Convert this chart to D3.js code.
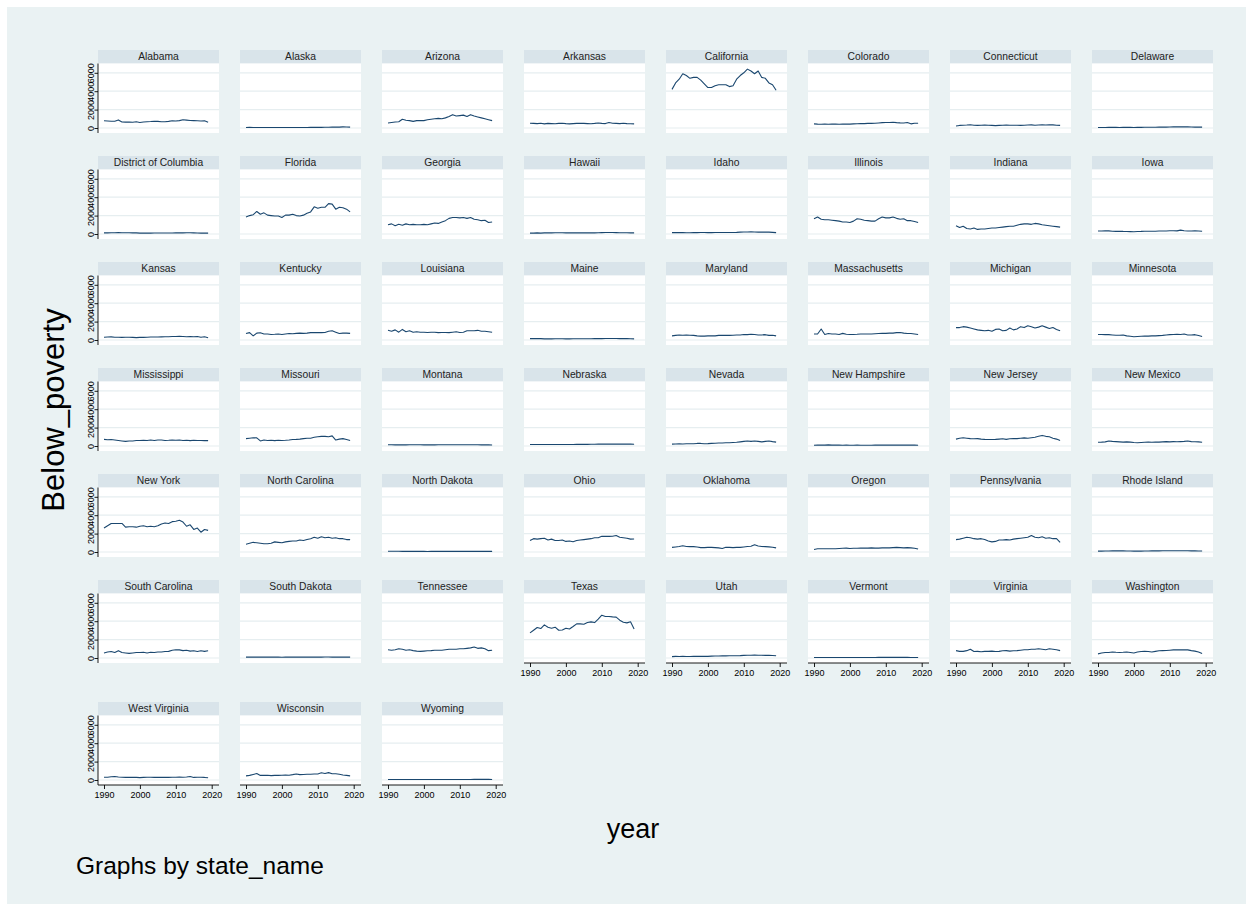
<!DOCTYPE html>
<html>
<head>
<meta charset="utf-8">
<script src="https://cdn.jsdelivr.net/npm/d3@7"></script>
<style>
  html, body { margin: 0; padding: 0; background: #ffffff; }
  svg { display: block; font-family: "Liberation Sans", Arial, Helvetica, sans-serif; }
</style>
</head>
<body>
<svg id="chart" width="1253" height="911"></svg>
<script>
// ---------------- DATA (persons below poverty, thousands) ----------------
const years = [1990,1991,1992,1993,1994,1995,1996,1997,1998,1999,2000,2001,2002,2003,2004,2005,2006,2007,2008,2009,2010,2011,2012,2013,2014,2015,2016,2017,2018,2019];
const xTickValues = [1990, 2000, 2010, 2020];
const xTickLabels = ["1990", "2000", "2010", "2020"];
const yTickValues = [0, 2000, 4000, 6000];
const yTickLabels = ["0", "2000", "4000", "6000"];

const stateNames = ["Alabama","Alaska","Arizona","Arkansas","California","Colorado","Connecticut","Delaware",
  "District of Columbia","Florida","Georgia","Hawaii","Idaho","Illinois","Indiana","Iowa",
  "Kansas","Kentucky","Louisiana","Maine","Maryland","Massachusetts","Michigan","Minnesota",
  "Mississippi","Missouri","Montana","Nebraska","Nevada","New Hampshire","New Jersey","New Mexico",
  "New York","North Carolina","North Dakota","Ohio","Oklahoma","Oregon","Pennsylvania","Rhode Island",
  "South Carolina","South Dakota","Tennessee","Texas","Utah","Vermont","Virginia","Washington",
  "West Virginia","Wisconsin","Wyoming"];

const alabama = [780,760,740,740,880,660,640,660,620,680,600,660,680,700,740,720,680,680,720,780,760,800,900,860,820,800,780,760,780,620];
const alaska = [60,70,60,60,60,50,50,60,50,50,50,50,50,60,60,60,60,60,70,70,80,70,80,80,90,90,100,120,110,90];
const arizona = [550,600,650,680,950,850,800,720,800,820,800,900,950,1000,1050,1000,1100,1250,1450,1300,1350,1400,1250,1450,1300,1200,1100,1000,900,800];
const arkansas = [520,500,480,520,450,500,480,460,500,520,480,450,480,500,520,500,480,460,500,550,500,480,600,520,500,480,520,480,460,450];
const california = [4200,4900,5300,5900,5700,5400,5500,5500,5200,4800,4400,4400,4600,4700,4700,4700,4500,4600,5300,5700,6000,6400,6200,5900,6200,5500,5400,4900,4700,4100];
const colorado = [450,420,400,420,400,420,420,400,420,440,420,450,460,480,480,500,500,520,550,580,600,600,620,580,560,550,600,450,520,520];
const connecticut = [220,280,300,320,360,300,280,300,320,300,280,260,280,300,320,300,300,300,280,300,320,340,300,320,340,320,360,340,300,280];
const delaware = [50,60,60,70,70,70,60,70,70,70,60,70,70,80,80,80,80,90,90,100,110,120,120,120,130,120,110,100,100,90];
const districtOfColumbia = [120,120,130,140,150,140,130,130,120,120,100,100,100,100,110,110,110,110,110,110,120,120,120,130,130,120,110,100,100,100];
const florida = [1850,2000,2100,2450,2150,2300,2050,2000,1950,1950,1800,2050,2050,2150,2000,1950,2050,2250,2400,2950,2800,2900,2900,3300,3250,2700,2900,2850,2700,2400];
const georgia = [1000,1100,900,1050,950,1100,1000,1050,1000,1000,1050,1000,1100,1200,1150,1300,1450,1700,1800,1800,1750,1800,1700,1800,1600,1550,1450,1500,1250,1300];
const hawaii = [100,100,120,100,120,120,120,130,140,140,120,140,120,120,120,120,120,120,120,140,150,160,160,160,150,140,130,130,120,120];
const idaho = [150,150,150,150,140,140,150,150,160,160,150,150,160,160,160,170,160,170,180,200,220,220,230,220,200,200,200,200,180,150];
const illinois = [1650,1850,1600,1550,1550,1500,1450,1400,1300,1300,1250,1400,1650,1600,1500,1450,1400,1400,1650,1850,1750,1750,1850,1700,1600,1650,1450,1450,1350,1250];
const indiana = [900,700,850,600,550,650,500,550,550,600,650,650,700,750,800,850,850,950,1050,1100,1100,1050,1150,1100,1000,950,900,850,800,750];
const iowa = [320,330,350,340,300,280,300,280,270,260,250,270,280,300,300,300,300,320,320,330,350,350,340,420,350,330,330,340,330,300];
const kansas = [300,320,340,300,300,280,300,300,280,260,280,280,300,320,320,330,340,350,360,380,380,400,380,360,380,350,380,300,360,250];
const kentucky = [700,800,450,750,780,650,650,600,620,650,600,650,700,680,720,750,720,750,800,800,820,800,820,950,1000,850,700,750,750,720];
const louisiana = [1050,950,1100,850,1150,900,1000,850,900,850,850,820,850,850,800,820,820,800,850,900,820,850,1000,1000,1000,1050,950,950,900,850];
const maine = [150,160,150,150,120,120,120,130,130,130,120,120,130,140,140,140,140,140,150,150,150,160,160,160,160,150,150,150,140,120];
const maryland = [450,500,550,520,550,520,500,450,420,420,450,450,450,500,500,520,500,520,550,550,600,580,620,600,550,550,580,500,520,450];
const massachusetts = [650,650,1200,600,700,650,650,600,720,620,600,600,620,650,650,650,650,680,700,720,720,750,750,800,820,750,700,700,650,600];
const michigan = [1350,1350,1450,1400,1300,1200,1100,1050,1000,1050,950,1150,1200,1000,1050,1300,1100,1200,1450,1350,1550,1450,1300,1400,1550,1400,1250,1350,1150,1000];
const minnesota = [600,600,580,580,550,520,520,550,450,400,350,380,400,420,420,450,450,480,500,550,580,600,620,600,650,550,550,580,480,380];
const mississippi = [720,680,700,650,600,550,500,550,550,600,600,620,600,650,600,650,650,600,620,650,620,650,600,620,580,620,600,600,580,580];
const missouri = [800,850,900,880,550,650,600,620,580,620,600,620,650,700,720,750,800,850,850,950,1000,1050,1050,1000,1100,650,750,800,700,600];
const montana = [130,130,120,120,120,120,130,130,130,130,120,120,120,120,130,130,130,130,130,140,140,140,140,130,130,130,120,120,120,110];
const nebraska = [160,160,170,170,160,160,160,170,170,170,160,170,170,180,180,180,180,190,190,200,200,200,210,200,200,200,200,210,200,190];
const nevada = [200,220,240,220,250,250,240,280,280,250,260,280,300,320,320,350,350,380,400,450,500,550,500,550,500,450,500,550,480,420];
const newHampshire = [80,90,100,100,120,100,90,90,80,90,80,80,90,80,80,80,80,90,90,100,100,100,100,110,100,100,100,90,90,80];
const newJersey = [750,850,900,850,800,780,800,750,720,700,700,720,750,780,720,780,800,800,850,880,850,900,950,1050,1150,1050,1000,850,750,600];
const newMexico = [400,420,450,550,500,480,450,420,450,420,380,360,380,400,420,400,420,420,450,480,450,480,460,480,500,550,480,460,450,400];
const newYork = [2600,2850,3100,3100,3100,3100,2700,2750,2750,2700,2800,2850,2750,2800,2750,2850,3050,3150,3100,3300,3350,3450,3250,2800,2950,2450,2600,2150,2450,2350];
const northCarolina = [850,950,1050,1000,950,900,900,950,1100,1050,1000,1100,1150,1200,1200,1300,1250,1350,1450,1600,1500,1650,1550,1600,1500,1550,1450,1450,1350,1350];
const northDakota = [80,80,80,80,70,70,70,70,70,70,70,60,70,70,70,70,70,70,70,70,70,70,70,70,70,70,70,70,70,70];
const ohio = [1250,1450,1400,1450,1500,1300,1400,1250,1250,1300,1150,1200,1120,1250,1300,1350,1400,1450,1550,1550,1700,1720,1700,1720,1800,1600,1550,1500,1400,1420];
const oklahoma = [500,550,600,680,600,580,580,550,480,480,500,500,480,450,380,520,500,480,500,500,550,600,620,780,650,600,580,560,520,450];
const oregon = [280,350,360,350,360,350,360,380,400,420,380,400,400,420,420,420,450,420,420,450,450,450,480,500,480,450,480,450,400,320];
const pennsylvania = [1350,1400,1500,1600,1550,1450,1400,1450,1350,1200,1100,1150,1300,1300,1350,1300,1400,1450,1500,1550,1600,1800,1600,1550,1650,1500,1550,1450,1450,1050];
const rhodeIsland = [100,100,110,110,120,120,120,120,110,110,100,100,100,110,110,120,120,120,130,130,140,140,140,130,130,130,120,120,110,110];
const southCarolina = [550,650,700,600,800,600,550,500,550,600,600,620,550,620,600,650,650,700,720,850,900,880,800,850,750,780,700,780,720,780];
const southDakota = [100,100,100,100,100,100,90,90,90,90,80,90,90,90,90,100,100,100,100,100,100,100,110,110,100,100,100,100,100,100];
const tennessee = [900,850,900,1000,950,850,900,800,750,720,750,780,800,850,850,850,900,950,950,950,1000,1000,1050,1100,1200,1050,1100,1000,800,850];
const texas = [2730,3020,3310,3200,3600,3350,3240,3350,3020,3050,3240,3160,3420,3710,3710,3670,3850,3930,3850,4220,4650,4510,4510,4470,4440,4110,3890,3820,3930,3160];
const utah = [150,180,170,180,170,170,180,180,180,190,180,200,220,220,230,230,240,240,250,260,280,300,300,320,300,300,280,280,270,250];
const vermont = [60,60,60,60,60,60,60,60,60,60,60,60,60,60,60,60,60,60,70,70,70,70,70,70,70,70,70,60,60,60];
const virginia = [800,720,720,800,950,700,720,680,720,720,750,700,720,780,800,750,780,800,850,900,900,950,950,1000,950,900,1000,950,900,800];
const washington = [450,550,600,600,650,620,600,620,650,600,550,650,700,720,700,650,720,780,800,820,850,880,900,880,900,880,800,750,650,500];
const westVirginia = [300,300,350,380,320,300,280,280,300,280,260,280,300,300,280,280,280,280,280,300,300,320,300,320,380,280,300,300,280,250];
const wisconsin = [450,500,600,700,500,500,520,480,500,500,520,550,520,580,650,580,600,620,620,650,650,780,700,800,680,680,620,550,500,450];
const wyoming = [60,60,60,60,60,60,60,60,60,60,60,60,60,60,60,60,60,60,60,60,60,60,60,60,70,70,70,70,70,60];

const stateSeries = [alabama, alaska, arizona, arkansas, california, colorado, connecticut, delaware,
  districtOfColumbia, florida, georgia, hawaii, idaho, illinois, indiana, iowa,
  kansas, kentucky, louisiana, maine, maryland, massachusetts, michigan, minnesota,
  mississippi, missouri, montana, nebraska, nevada, newHampshire, newJersey, newMexico,
  newYork, northCarolina, northDakota, ohio, oklahoma, oregon, pennsylvania, rhodeIsland,
  southCarolina, southDakota, tennessee, texas, utah, vermont, virginia, washington,
  westVirginia, wisconsin, wyoming];

// ---------------- LAYOUT ----------------
const svg = d3.select("#chart");
const W = 1253, H = 911;
const NCOL = 8;
const colLeft0 = 98, colPitch = 142, panelW = 121;
const rowTops = [50, 156, 262, 368, 474, 580, 702];
const headerH = 13.5, plotH = 69.5;
const lineColor = "#1a476f";
const bgColor = "#eaf2f3";
const stripColor = "#d9e4ea";
const gridColor = "#e6eef0";

svg.append("rect").attr("x", 0).attr("y", 0).attr("width", W).attr("height", H).attr("fill", "#ffffff");
svg.append("rect").attr("x", 7).attr("y", 7).attr("width", W - 14).attr("height", H - 14).attr("fill", bgColor);

stateNames.forEach((name, i) => {
  const r = Math.floor(i / NCOL), c = i % NCOL;
  const x0 = colLeft0 + colPitch * c;
  const top = rowTops[r];
  const pTop = top + headerH;
  const pBot = pTop + plotH;
  const g = svg.append("g");

  // strip
  g.append("rect").attr("x", x0).attr("y", top).attr("width", panelW).attr("height", headerH).attr("fill", stripColor);
  g.append("text").attr("x", x0 + panelW / 2).attr("y", top + headerH / 2 + 3.6)
    .attr("text-anchor", "middle").attr("font-size", "10.3px").attr("fill", "#222").text(name);

  // plot region
  g.append("rect").attr("x", x0).attr("y", pTop).attr("width", panelW).attr("height", plotH).attr("fill", "#ffffff");

  const x = d3.scaleLinear().domain([1990, 2020]).range([x0 + 6, x0 + 113.7]);
  const y = d3.scaleLinear().domain([0, 6000]).range([pBot - 5, pTop + 9.3]);

  // gridlines
  g.selectAll("line.grid").data(yTickValues).join("line").attr("class", "grid")
    .attr("x1", x0).attr("x2", x0 + panelW)
    .attr("y1", d => y(d)).attr("y2", d => y(d))
    .attr("stroke", gridColor).attr("stroke-width", 1.2);

  // series line
  const series = stateSeries[i];
  const line = d3.line().x((d, k) => x(years[k])).y(d => y(d));
  g.append("path").datum(series).attr("d", line)
    .attr("fill", "none").attr("stroke", lineColor).attr("stroke-width", 1.1).attr("stroke-linejoin", "round");

  // y-axis (first column)
  if (c === 0) {
    const ax = g.append("g").attr("transform", `translate(${x0},0)`)
      .call(d3.axisLeft(y).tickValues(yTickValues).tickSize(3.5).tickFormat((d, k) => yTickLabels[k]));
    ax.select(".domain").remove();
    ax.selectAll(".tick line").attr("stroke", "#000").attr("stroke-width", 0.9);
    ax.selectAll(".tick text")
      .attr("transform", "rotate(-90)").attr("x", 0).attr("y", -4.5).attr("dy", 0)
      .attr("text-anchor", "middle").attr("font-size", "9px").attr("fill", "#000")
      .attr("font-family", "'Liberation Sans', Arial, sans-serif");
    g.append("line").attr("x1", x0).attr("x2", x0).attr("y1", pTop).attr("y2", pBot)
      .attr("stroke", "#000").attr("stroke-width", 0.9);
  }

  // x-axis (panels with no panel below)
  if (i + NCOL >= stateNames.length) {
    const ax = g.append("g").attr("transform", `translate(0,${pBot})`)
      .call(d3.axisBottom(x).tickValues(xTickValues).tickSize(4).tickPadding(2.2).tickFormat((d, k) => xTickLabels[k]));
    ax.select(".domain").remove();
    ax.selectAll(".tick line").attr("stroke", "#000").attr("stroke-width", 0.9);
    ax.selectAll(".tick text").attr("font-size", "9px").attr("fill", "#000")
      .attr("font-family", "'Liberation Sans', Arial, sans-serif");
    g.append("line").attr("x1", x0).attr("x2", x0 + panelW).attr("y1", pBot).attr("y2", pBot)
      .attr("stroke", "#000").attr("stroke-width", 0.9);
  }
});

// axis titles and note
svg.append("text").attr("transform", "translate(64,410) rotate(-90)")
  .attr("text-anchor", "middle").attr("font-size", "31px").attr("fill", "#000").text("Below_poverty");
svg.append("text").attr("x", 633).attr("y", 838)
  .attr("text-anchor", "middle").attr("font-size", "27px").attr("fill", "#000").text("year");
svg.append("text").attr("x", 76).attr("y", 874)
  .attr("font-size", "24.5px").attr("fill", "#000").text("Graphs by state_name");
</script>
</body>
</html>
